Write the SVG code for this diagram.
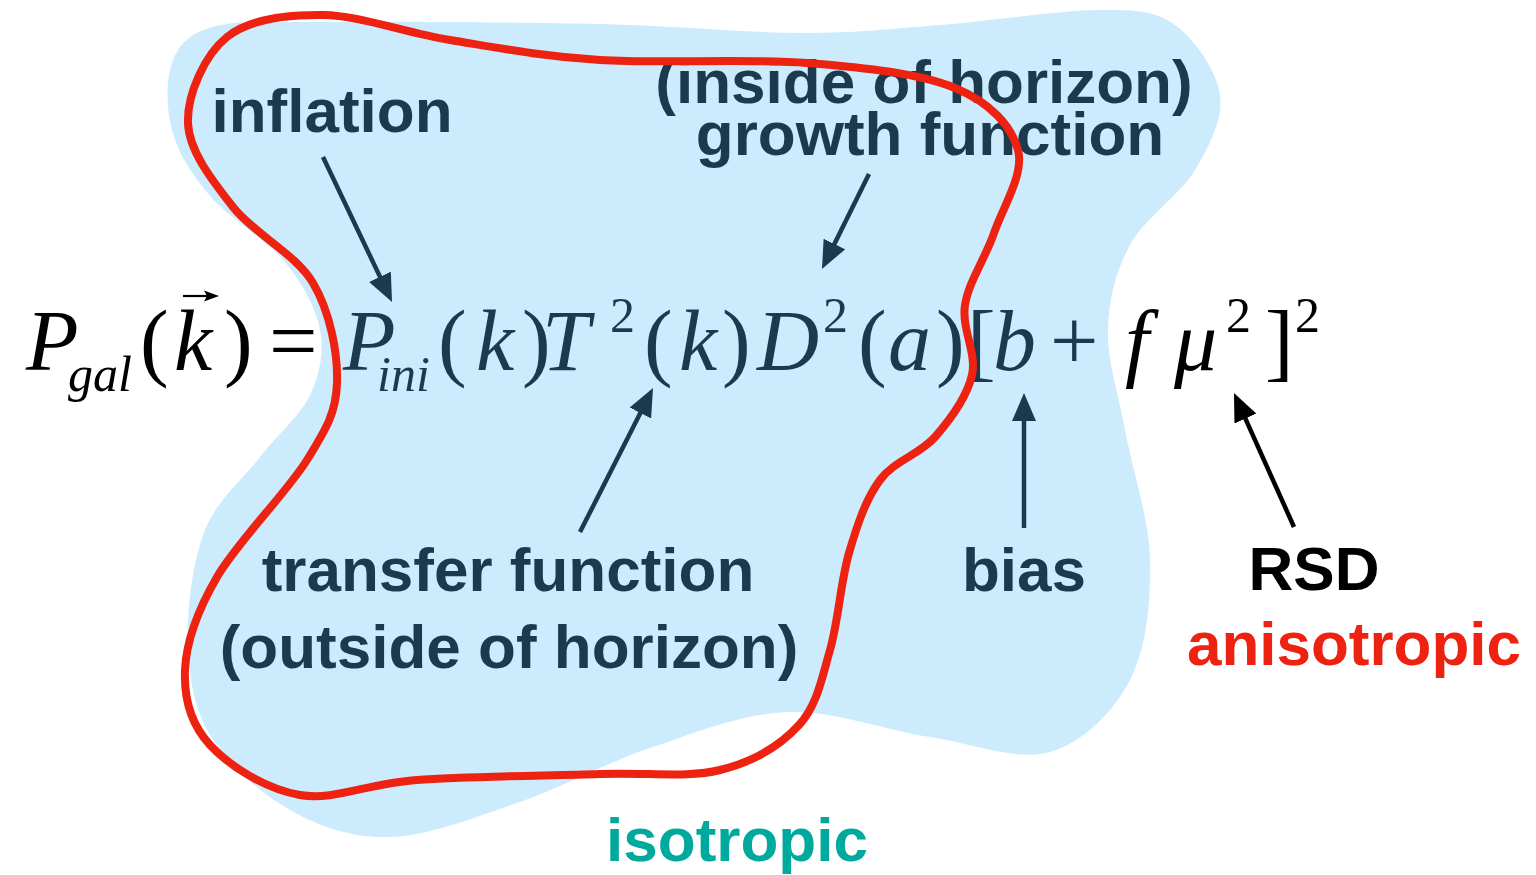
<svg xmlns="http://www.w3.org/2000/svg" width="1536" height="875" viewBox="0 0 1536 875">
<style>
.lbl{font-family:"Liberation Sans",Arial,sans-serif;font-weight:bold;font-size:62px;text-anchor:middle}
.navy{fill:#1B3A4E}
.eq{font-family:"Liberation Serif","Times New Roman",serif;font-size:86px}
.it{font-style:italic}
.sm{font-size:50px}
.arr{stroke:#1B3A4E;stroke-width:4.5;fill:none;marker-end:url(#headNavy)}
.arrK{stroke:#000;stroke-width:4.5;fill:none;marker-end:url(#headBlack)}
</style>
<defs>
<marker id="headNavy" markerUnits="userSpaceOnUse" markerWidth="28" markerHeight="24" viewBox="0 0 28 24" refX="14" refY="12" orient="auto"><path d="M0,0 L28,12 L0,24 z" fill="#1B3A4E"/></marker>
<marker id="headBlack" markerUnits="userSpaceOnUse" markerWidth="28" markerHeight="24" viewBox="0 0 28 24" refX="14" refY="12" orient="auto"><path d="M0,0 L28,12 L0,24 z" fill="#000"/></marker>
</defs>
<rect width="1536" height="875" fill="#fff"/>
<g id="isotropic-region">
<path fill="#CCEBFD" d="M250,22 C280,22 300,22 330,22 C396.7,21 521.7,22.2 600,24 C678.3,25.8 743.3,32.8 800,33 C856.7,33.2 890,28.8 940,25 C990,21.2 1060.8,10 1100,10 C1139.2,10 1155,10.8 1175,25 C1195,39.2 1216.7,70.8 1220,95 C1223.3,119.2 1210,145 1195,170 C1180,195 1144.5,218.3 1130,245 C1115.5,271.7 1108.8,299.2 1108,330 C1107.2,360.8 1118,391.7 1125,430 C1132,468.3 1149.2,518.3 1150,560 C1150.8,601.7 1146.7,648 1130,680 C1113.3,712 1083.3,742.5 1050,752 C1016.7,761.5 973.8,743.7 930,737 C886.2,730.3 833.7,710.2 787,712 C740.3,713.8 695,732.8 650,748 C605,763.2 560.3,788.2 517,803 C473.7,817.8 427.8,835.8 390,837 C352.2,838.2 320,827 290,810 C260,793 227,763.3 210,735 C193,706.7 188.8,674.2 188,640 C187.2,605.8 193,560.5 205,530 C217,499.5 242.5,479.5 260,457 C277.5,434.5 300,416.2 310,395 C320,373.8 324.2,352.2 320,330 C315.8,307.8 303.3,284.3 285,262 C266.7,239.7 228.8,218 210,196 C191.2,174 177.8,152.3 172,130 C166.2,107.7 164,72 178,50 C190,31 215,23 250,22 Z"/>
</g>
<g id="equation">
<text class="eq it" x="26" y="370">P</text>
<text class="eq it sm" x="68" y="391">gal</text>
<text class="eq" x="140" y="370">(</text>
<text class="eq it" x="174" y="370">k</text>
<path d="M183,296 H209" stroke="#000" stroke-width="2.2" fill="none"/>
<path d="M204,290.5 L219,296 L204,301.5 L207,296 z" fill="#000"/>
<text class="eq" x="224" y="370">)</text>
<text class="eq" x="269" y="370">=</text>
<g class="navy">
<text class="eq it" x="343" y="370">P</text>
<text class="eq it sm" x="377" y="391">ini</text>
<text class="eq" x="438" y="370">(</text>
<text class="eq it" x="476" y="370">k</text>
<text class="eq" x="522" y="370">)</text>
<text class="eq it" x="542" y="370">T</text>
<text class="eq sm" x="610" y="332">2</text>
<text class="eq" x="644" y="370">(</text>
<text class="eq it" x="679" y="370">k</text>
<text class="eq" x="722" y="370">)</text>
<text class="eq it" x="757" y="370">D</text>
<text class="eq sm" x="823" y="332">2</text>
<text class="eq" x="858" y="370">(</text>
<text class="eq it" x="888" y="370">a</text>
<text class="eq" x="936" y="370">)</text>
<text class="eq" x="967" y="370">[</text>
<text class="eq it" x="993" y="370">b</text>
<text class="eq" x="1050" y="370">+</text>
</g>
<text class="eq it" x="1125" y="370">f</text>
<text class="eq it" x="1174" y="370">μ</text>
<text class="eq sm" x="1226" y="332">2</text>
<text class="eq" x="1265" y="370">]</text>
<text class="eq sm" x="1295" y="332">2</text>
</g>
<g id="node-inflation"><text class="lbl navy" x="332" y="132">inflation</text></g>
<g id="node-growth"><text class="lbl navy" x="924" y="103">(inside of horizon)</text><text class="lbl navy" x="930" y="155">growth function</text></g>
<g id="node-transfer"><text class="lbl navy" x="508" y="591">transfer function</text><text class="lbl navy" x="509" y="668">(outside of horizon)</text></g>
<g id="node-bias"><text class="lbl navy" x="1024" y="591">bias</text></g>
<g id="node-rsd"><text class="lbl" x="1314" y="590" fill="#000">RSD</text><text class="lbl" x="1354" y="665" fill="#EE2211">anisotropic</text></g>
<g id="node-isotropic"><text class="lbl" x="737" y="861" fill="#00A99D">isotropic</text></g>
<g id="connectors">
<path class="arr" d="M323,157 L386,289.4"/>
<path class="arr" d="M869,174 L828.2,256.5"/>
<path class="arr" d="M580,532 L646.7,400.5"/>
<path class="arr" d="M1024,528 L1024,407"/>
<path class="arrK" d="M1294,527 L1239.7,405.8"/>
</g>
<g id="anisotropic-loop">
<path fill="none" stroke="#EE2211" stroke-width="8" d="M323,15 C360.2,15.5 403.8,32.5 450,40 C496.2,47.5 540.5,56.2 600,60 C659.5,63.8 747.8,58.3 807,63 C866.2,67.7 919.8,73.5 955,88 C990.2,102.5 1011.5,125.8 1018,150 C1024.5,174.2 1002.8,207.2 994,233 C985.2,258.8 968.7,281.3 965,305 C961.3,328.7 977,353 972,375 C967,397 950.3,419.5 935,437 C919.7,454.5 894.3,460.7 880,480 C865.7,499.3 857.3,524.7 849,553 C840.7,581.3 838.3,621.3 830,650 C821.7,678.7 817.3,705 799,725 C780.7,745 753.2,761.8 720,770 C686.8,778.2 650.5,772.3 600,774 C549.5,775.7 467,776.5 417,780 C367,783.5 334.5,800.8 300,795 C265.5,789.2 229.2,765.8 210,745 C190.8,724.2 183.8,698 185,670 C186.2,642 196.7,612 217,577 C237.3,542 287,492.3 307,460 C327,427.7 336,412.5 337,383 C338,353.5 330.3,312.3 313,283 C295.7,253.7 253.8,233.7 233,207 C212.2,180.3 189,151.3 188,123 C187,94.7 204.5,55 227,37 C249.5,19 285.8,14.5 323,15 Z"/>
</g>
</svg>
